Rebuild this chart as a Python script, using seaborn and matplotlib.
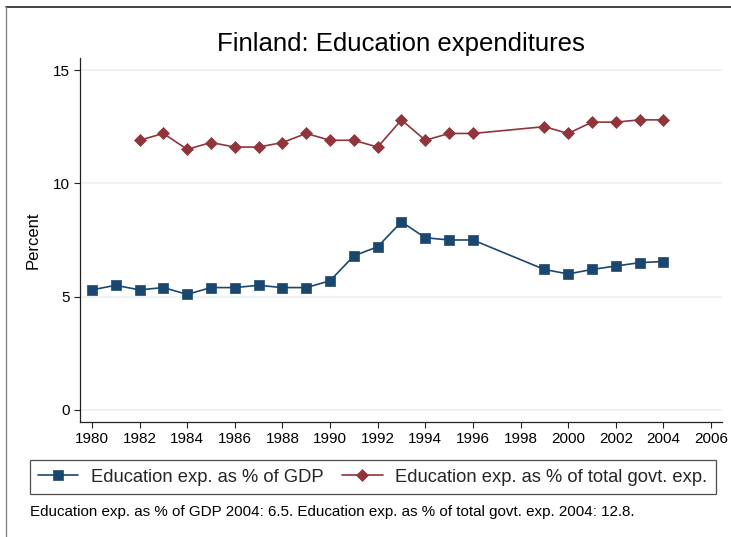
import pandas as pd
import matplotlib.pyplot as plt
from matplotlib.lines import Line2D
import seaborn as sns

# Data
years = [1980, 1981, 1982, 1983, 1984, 1985, 1986, 1987, 1988, 1989, 1990,
         1991, 1992, 1993, 1994, 1995, 1996, 1999, 2000, 2001, 2002, 2003, 2004]
gdp_share = [5.3, 5.5, 5.3, 5.4, 5.1, 5.4, 5.4, 5.5, 5.4, 5.4, 5.7,
             6.8, 7.2, 8.3, 7.6, 7.5, 7.5, 6.2, 6.0, 6.2, 6.35, 6.5, 6.55]
govt_years = years[2:]
govt_share = [11.9, 12.2, 11.5, 11.8, 11.6, 11.6, 11.8, 12.2, 11.9,
              11.9, 11.6, 12.8, 11.9, 12.2, 12.2, 12.5, 12.2, 12.7, 12.7, 12.8, 12.8]
x_ticks = list(range(1980, 2007, 2))
y_ticks = [0, 5, 10, 15]

label_gdp = 'Education exp. as % of GDP'
label_govt = 'Education exp. as % of total govt. exp.'
navy = '#1A476F'
maroon = '#90353B'

df_gdp = pd.DataFrame({'year': years, 'value': gdp_share})
df_govt = pd.DataFrame({'year': govt_years, 'value': govt_share})

sns.set_theme(style="white")
plt.rcParams['font.family'] = ['Liberation Sans', 'DejaVu Sans']

fig = plt.figure(figsize=(7.31, 5.37), dpi=100)
ax = fig.add_axes([0.1094, 0.2142, 0.8783, 0.6778])

sns.lineplot(data=df_gdp, x='year', y='value', ax=ax, color=navy, lw=1.2,
             marker='s', markersize=6.8, markeredgecolor=navy, markeredgewidth=0.5,
             label=label_gdp, legend=False)
sns.lineplot(data=df_govt, x='year', y='value', ax=ax, color=maroon, lw=1.2,
             marker='D', markersize=6.5, markeredgecolor=maroon, markeredgewidth=0.5,
             label=label_govt, legend=False)

ax.set_xlim(1979.5, 2006.46)
ax.set_ylim(-0.53, 15.53)
ax.set_xticks(x_ticks)
ax.set_yticks(y_ticks)
ax.yaxis.grid(True, color='#EAF2F3', lw=1.3)
ax.xaxis.grid(False)
for s in ['top', 'right']:
    ax.spines[s].set_visible(False)
for s in ['left', 'bottom']:
    ax.spines[s].set_color('#222222')
    ax.spines[s].set_linewidth(0.9)
ax.tick_params(axis='both', which='major', length=4, width=0.8, color='#222222',
               labelsize=11, labelcolor='black', pad=3, bottom=True, left=True)
ax.set_xlabel('')
ax.set_ylabel('Percent', fontsize=12, color='black', labelpad=9)
ax.set_title('Finland: Education expenditures', fontsize=18.5, color='black', pad=5)

handles, labels = ax.get_legend_handles_labels()
leg = fig.legend(handles, labels, loc='center', bbox_to_anchor=(0.51, 0.1117),
                 ncol=2, fontsize=13.2, frameon=True, fancybox=False,
                 edgecolor='#222222', handlelength=2.2, columnspacing=1.0,
                 handletextpad=0.7, borderpad=0.45)
leg.get_frame().set_linewidth(0.9)

fig.text(0.041, 0.047, 'Education exp. as % of GDP 2004: 6.5. Education exp. as % of total govt. exp. 2004: 12.8.',
         fontsize=10.9, ha='left', va='center', color='black')

# outer frame of the graph region
fig.add_artist(Line2D([0.008, 1.0], [0.987, 0.987], color='#222222', lw=1.2))
fig.add_artist(Line2D([0.008, 0.008], [0.0, 0.987], color='#888888', lw=1.0))

fig.savefig('out.png', dpi=100)
